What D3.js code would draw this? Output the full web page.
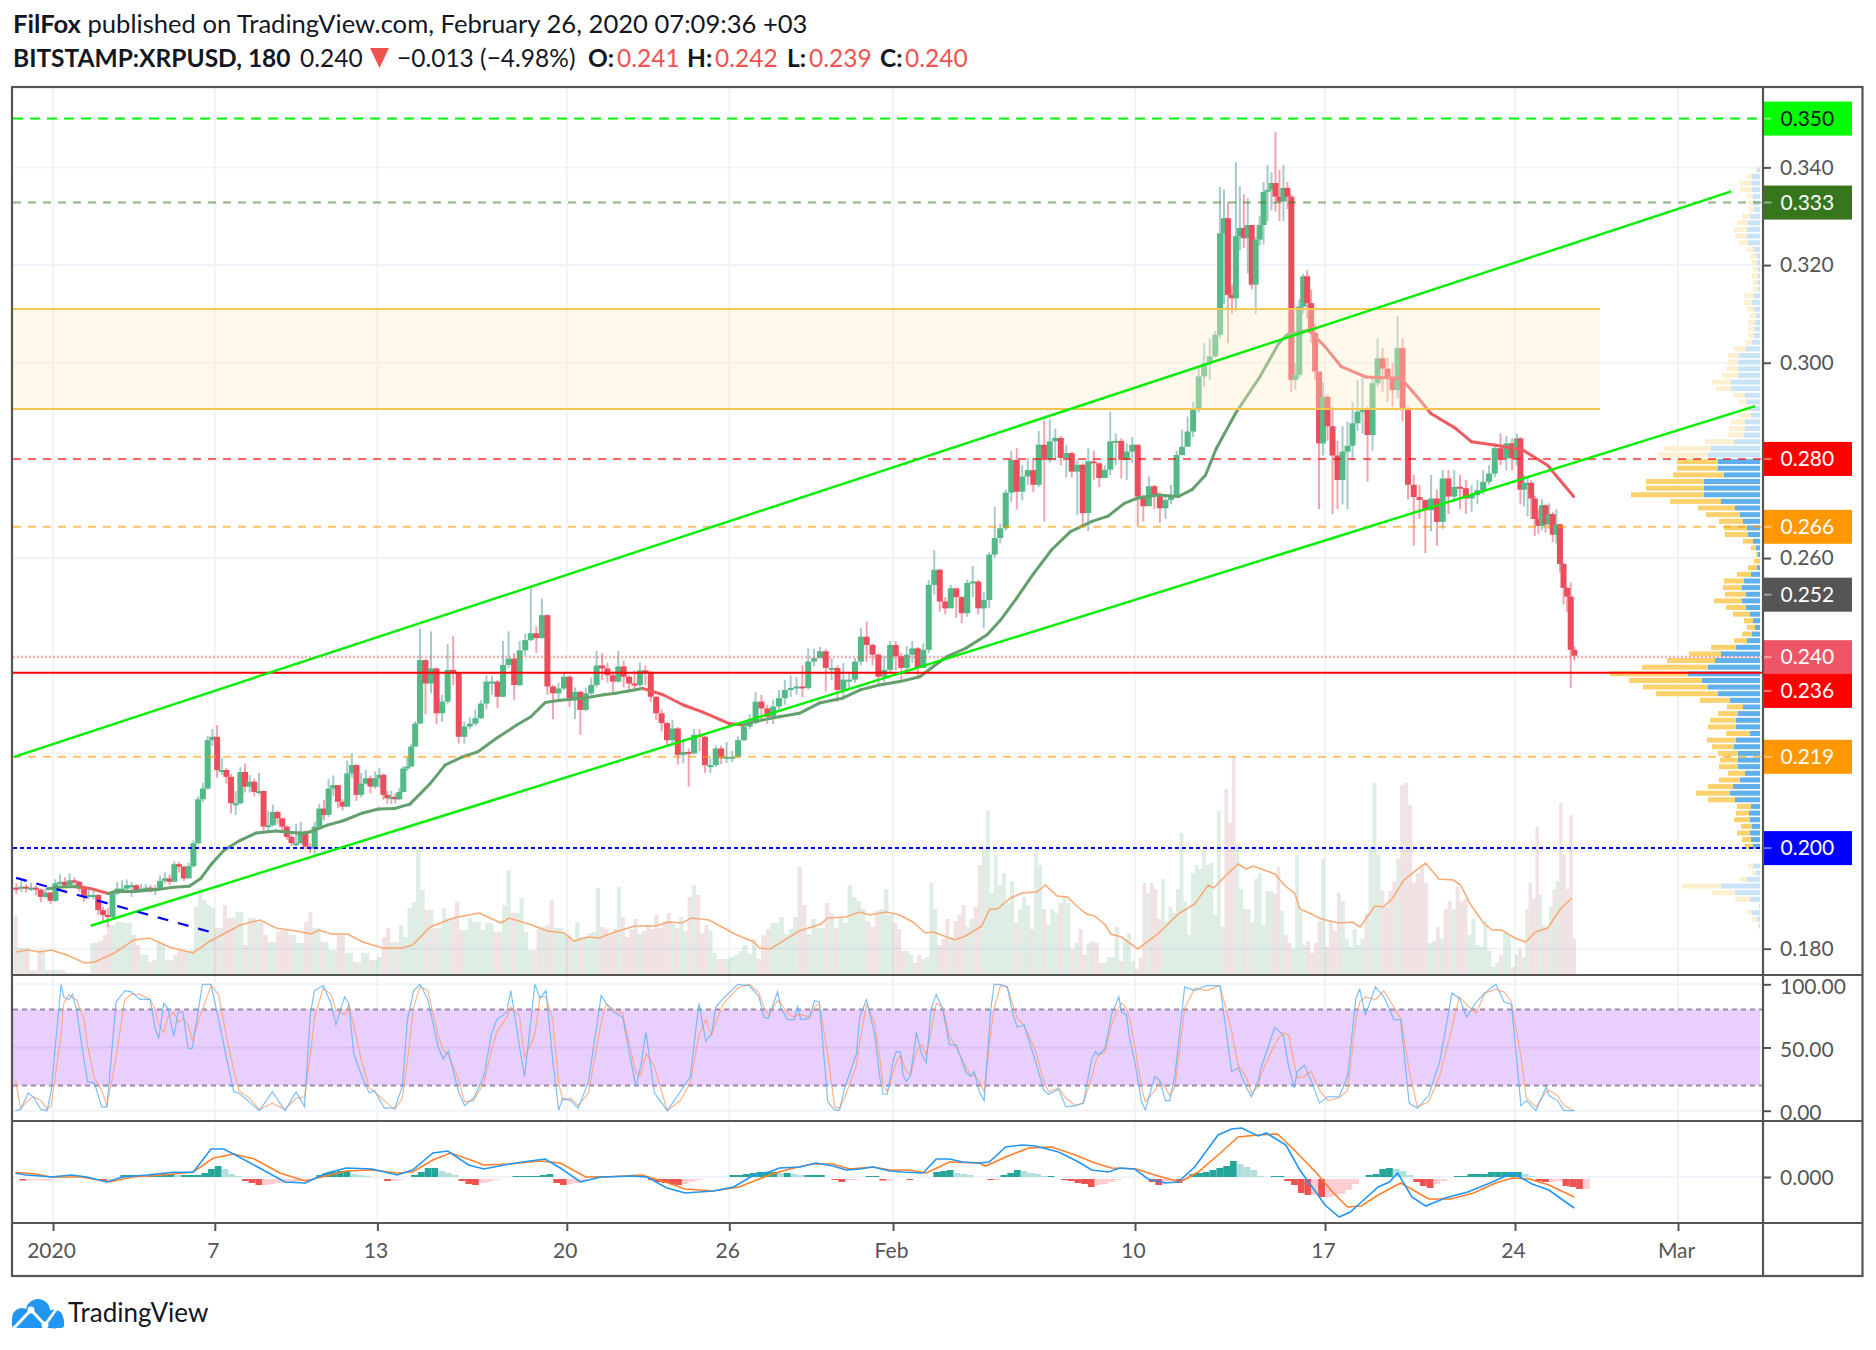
<!DOCTYPE html>
<html><head><meta charset="utf-8">
<script src="https://cdn.jsdelivr.net/npm/d3@7"></script>
<style>html,body{margin:0;background:#fff}svg{display:block}text{font-family:Lato,"Open Sans",sans-serif}</style>
</head><body><script>
// ---------- time ticks (days since 1 Jan 2020) ----------
const tickDays=[0,6,12,19,25,31,40,47,54,60];
const tickLabels=["2020","7","13","20","26","Feb","10","17","24","Mar"];
const segmentDays=[-1.45,0,6,12,19,25,31,40,47,54,56.25];
// ---------- candles: [close, high, low] in thousandths of a dollar, one list per stretch of days ----------
const barDays=[-1.45,0,6,12,13.47,19,25,31,40,43.06,47,49.95,54,56.25];
const barsDec=[[192.3,193.4,191.2],[192.7,193.8,191.6],[192.3,193.2,191.5],[192.5,193.5,191.8],[192.1,193,190.9],[190.6,192.3,189.5],[191.5,192.4,190.3],[189.8,191.6,189.2]];
const barsJan1=[[193.4,194.2,189.6],[193.7,195.2,193],[193,194.6,192.4],[194,195.4,193],[193.7,194.6,192.7],[192.3,193.9,191.7],[190.6,192.4,189.6],[191,192.6,190.2],[191,191.8,190.1],[187.9,191.2,187],[186.9,188.6,185.5],[186.5,188.3,184.4],[191.3,192,186],[192.3,193.7,191],[192.3,194,191.4],[193,194.2,191.8],[193,193.7,190.6],[192,193.2,191.4],[192.3,193.2,191.6],[192.5,193.2,191.8],[192.3,193,191.5],[192.3,193,191],[193.9,195,192],[194.4,195.6,193.4],[193.7,195.2,193],[197.3,197.9,193.6],[196.8,197.8,195.6],[194.4,197,193.9],[196.9,197.6,194.4],[201.6,202.2,196.6],[210.6,211.2,201.4],[212.8,214,210],[222.7,223.6,212.6],[223.4,225,221.5]];
const barsJan7=[[216.6,225.8,215],[216.6,219,215.6],[215.2,217,213.8],[209.8,215.8,207.7],[209.8,212.3,207.4],[216.2,217.2,209.5],[213.2,217.9,212],[214.2,215.6,212],[212.1,214.8,211.2],[212.3,216,211.5],[205,212.4,204.1],[205.3,208.3,204],[208,209.5,205],[206.7,208.3,205.6],[205,206.8,204.3],[202.9,205.3,202.3],[201.6,203.5,201],[201.6,205.6,201],[204,206,201.4],[200.9,204.2,200.3],[200.5,201.6,199.6],[205,206,199.4],[208.7,209.7,204.6],[207.4,210.5,206.3],[212.8,214.8,207],[213.5,215.5,211.3],[210.1,213.5,208.8],[209.1,210.6,208.3],[215.9,218.5,209],[217.6,220,215],[211.5,217.8,210.3],[213.8,216,211],[214.9,216.6,213.6],[213.2,215.5,211.8],[214.9,216.3,212.8]];
const barsJan13=[[215.6,217,213],[211.5,215.9,210.5],[210.8,212.3,209.7],[211.1,212.4,209.6],[210.6,211.8,209.8],[212.1,212.9,210.4],[216.9,217.4,212],[217.3,219.3,216.4],[221.4,222,217.4],[226.1,226.6,221.3]];
const barsJan14=[[239.1,245.6,226],[234.3,239.3,228],[237.4,245,232.3],[228.2,237.6,226],[230.6,232,226.5],[237.1,242.4,230],[236.4,244,234],[223.4,236.6,222],[225.5,226.5,222],[226.1,227.4,225],[227.2,229,225.6],[230.2,230.9,227],[234.7,236,229],[234.7,235.9,232],[231.6,235,229.3],[238.1,243,231.5],[239.4,245,237.5],[234,240.5,231],[241.1,243,233.7],[243.2,244.5,240],[244.6,253.8,243],[243.6,246,240.6],[248.3,251.7,243.5],[233.7,248.5,232],[232.3,234,227],[233.3,234.5,231],[235.7,236.6,233]];
const barsJan20=[[231.3,236,229.5],[232.6,233.5,227],[228.9,232.8,223.8],[232.3,233.5,228.6],[234,235.5,232],[238,241,233.5],[237.4,240.5,235],[236,238.6,234.5],[234.7,236.8,232.6],[237.8,241,234.5],[235.7,239,233.5],[234.3,236,232.5],[234,237,232.8],[237,238.6,233.6],[236.7,238,234],[231.6,236.8,230.5],[228.2,231.8,226.8],[226.2,229,224.5],[222.7,226.4,221.5],[225.1,226.8,222],[219.7,225.4,217.7],[220.3,223,218],[220,221,213.2],[223.8,225,219.8],[223.4,225,220.5],[217.6,223.6,216],[217.6,219,216],[221,221.6,217.2],[219,221.6,217.8],[219.3,222.3,218]];
const barsJan26=[[219.3,220.5,218.2],[222.7,223.5,219],[225.5,226.5,222.5],[226.2,228,225],[230.6,232.5,226],[229.2,232,226.5],[227.5,230,226],[229.6,231,226],[231.3,233,228.5],[233,235,230],[233.4,236,231.6],[233.7,235.6,232],[233.4,238,231.5],[238.8,241.5,233],[239.5,241.4,237.8],[240.9,241.8,239.5],[237.5,241.4,232.7],[237.5,239.5,235],[233,238,230.6],[235.1,238.5,231.3],[235.1,236.4,233],[238.8,239.5,234.5],[243.9,245.7,238],[242.2,247,238.7],[240.2,242.5,238],[235.7,240.5,234],[237.1,240,234.5],[242.2,243,236.5]];
const barsFeb1=[[239.9,243,237],[237.5,240.6,235],[240.2,242,236.6],[241.5,243,238.5],[237.5,241.8,235.5],[241.2,242.5,239],[254.5,255.5,240.5],[257.6,261.6,252.5],[251.1,257.8,249],[249.7,252,248.5],[253.8,254.5,250],[252,253.5,247.7],[248.7,252.2,246.7],[254.9,255.6,248],[255.2,258.4,252],[249.7,255.5,248.5],[251.4,253,245.6],[260.7,261.2,249.8],[264.1,270.5,260],[266.1,267,263],[273.4,274,265.6],[280.1,282,271.5],[273.6,282.5,270],[276.7,279,271.8],[278,280.5,275],[275,280.5,273.5],[283.2,286,274.5],[280.1,288.2,267.5],[283.9,288.4,279.5],[284.6,286.5,280],[280.5,285,279],[281.5,283.2,276.5],[277.7,281.8,276.5],[279.1,280,268.8],[269.2,279.4,266.5],[279.8,282.5,265.5],[279.4,282,276],[276.4,279.5,274.5],[278.1,279,276.5],[283.9,290,277],[284,285.5,279],[280.1,284.5,276.3],[281.8,283.5,276],[283.2,284.8,279.5]];
const barsFeb10=[[272.6,283.3,266.5],[270.6,273,267.5],[274.7,276.7,271],[273,275,270],[270.2,273.5,267.2],[271.9,273,268],[272.9,275,271],[281.1,282,272.5],[282.8,286.3,281],[285.9,289,285],[290.4,292,284.8],[297.2,299,289.8],[299.9,304,295],[301.3,305,296.4],[305.7,306.5,301]];
const barsFeb13=[[326.5,336,305],[329.6,335.5,312],[313.9,332.8,304],[313.2,316,310],[325.9,341.1,310.5],[327.6,336.2,322.9],[325.5,334.5,323.5],[328.2,333.7,318.3],[316,325.5,315],[325.2,325.8,310],[328.2,330,324],[335,337,324.2],[335.4,340.5,329],[336.8,339,331.2],[334,347.3,331],[333,339.5,329],[335.8,340.5,329],[334,337,331.5],[296.5,334.5,294],[297.5,300,294.4],[311.5,313,297],[317.7,318.2,310],[312.2,319,309],[306.1,315,304],[298.2,308,296.4],[283.5,298,270],[293,296,281]];
const barsFeb17=[[287,293.5,284],[281,291,269],[276,284,270],[281.8,287,271],[283,288,270],[287.6,292,280],[290,296.5,286],[290.3,297,285.5],[285.2,291,275.6],[295.8,297,282],[300.9,305,295],[298.8,303,294],[296.8,301,292],[294.4,300,291],[303,309.5,292.7],[290.3,305,288]];
const barsFeb20=[[275,291,272],[272.5,277,262.5],[271.9,275,268],[269.8,272,261],[272.2,277,265.5],[267.4,274,262.5],[276.3,278,266],[272.6,278,269],[274.6,278,271.5],[274.3,277,270],[272.2,276,269],[272.9,275,269.5],[273.9,276,271],[275.6,278,273],[277.3,279,275],[282.5,283.5,276.5],[280.4,285.5,279],[283.5,285,278],[280.4,284.5,278]];
const barsFeb24=[[284.5,285.5,279],[274,284.8,271],[275.4,277,270.6],[275.4,276.8,268.5],[272.2,276,268],[268,272.8,264.5],[266.6,270,265],[270.8,272,265.7],[266.9,271,265.2],[269,271.2,266],[264.8,269.5,263.3],[266.9,270,263],[258.8,267.1,257],[253.9,259,250.5],[252.1,254,249],[241.2,255,233.4],[240,242,239]];
// ---------- volume, one list per tick interval ----------
const volDec=[59,27,27,27,5,5,25,25,5,5];
const volJan1=[5,5,5,2,2,2,2,2,2,32,32,34,40,50,50,53,53,52,52,40,30,20,20,13,15,32,32,15,15,20,25,25,23,25,68,87,75,70,67];
const volJan7=[47,47,70,57,57,63,63,30,57,57,53,53,40,33,33,43,45,45,40,40,32,32,53,63,47,47,33,33,25,25,40,40,22,22,13,13,22,22,15,15];
const volJan13=[18,38,47,33,33,50,38,67,73,125,85,65,65,47,47,67,57,57,73,45,45,57,53,53,45,52,52,43,43,70,105,62,62,77,43,25,25,48,48,50,75,47,47,40];
const volJan20=[40,35,53,38,38,42,43,87,48,46,41,46,88,58,38,46,56,41,44,50,46,60,47,54,62,51,47,58,44,78,90,80,42,50,44,22,16,16,16];
const volJan26=[18,20,24,30,21,36,16,40,46,52,52,58,41,46,58,108,70,41,56,47,47,72,62,47,57,52,90,78,74,66,54,48,64,66,86,60];
const volFeb1=[52,46,24,24,20,12,20,16,18,92,66,30,36,56,38,54,60,70,48,56,68,110,124,164,82,120,90,102,72,94,52,66,78,70,46,122,110,66,50,66,62,72,78,72,26,32,46,20,32,34,32,12,12,18,18,48,14,34,42,14];
const volFeb10=[6,18,92,82,92,86,56,96,54,68,62,86,142,74,40,102,110,106,124,110,112,60,164,48,186,152,219,130,86,66,66,52,96,102,50,84,84,82,108,64,40,32,26,120,64,30,34,22,32,54,116];
const volFeb17=[28,54,44,82,74,36,28,46,30,36,62,128,192,120,84,68,84,94,116,190,192,170,92,102,110,92,32,34,48,36,66,74,66,88,74,76,40,56,30,28,54,24,8,12,20,42,40,8];
const volFeb24=[20,26,18,66,92,76,148,80,50,48,68,86,94,172,120,86,160,36];
// volume moving average: [day, value]
const volAverage=[[-1.37,23],[-.93,25],[-.5,23],[-.06,25],[.52,20],[1.18,12],[1.55,13],[2.27,22],[3,35],[3.58,37],[4.3,28],[5.2,22],[5.77,33],[6.94,50],[7.67,55],[8.25,47],[9,44],[9.56,41],[9.85,45],[10.3,41],[10.9,41],[11.46,33],[12.2,27],[12.9,27],[13.3,30],[13.95,48],[14.8,57],[15.76,62],[16.57,52],[16.86,57],[17.6,51],[18.3,44],[18.9,42],[19.26,34],[19.78,38],[20.2,37],[20.67,42],[21.5,49],[22.27,49],[22.76,53],[23.25,52],[23.6,57],[24.24,55],[24.67,49],[25.2,41],[25.9,33],[26.1,27],[26.5,26],[27.56,44],[28.36,51],[28.6,57],[29.28,58],[29.77,63],[30.14,60],[30.76,63],[31.25,60],[31.74,53],[32.2,42],[32.5,43],[33.3,35],[33.7,39],[34.3,49],[34.6,66],[34.88,66],[35.37,77],[35.8,82],[36.35,83],[36.66,90],[37.1,79],[37.5,78],[37.83,69],[38.2,61],[38.5,59],[38.9,50],[39.1,41],[39.5,38],[40.1,26],[40.84,41],[41.6,61],[42.2,71],[42.7,90],[42.9,87],[43.4,101],[43.8,111],[44.1,106],[44.35,109],[45.15,101],[45.5,90],[45.9,81],[46.07,66],[46.5,61],[46.87,56],[47.5,52],[48,53],[48.3,48],[48.84,69],[49.15,68],[49.5,77],[49.9,95],[50.7,112],[51.2,96],[51.73,95],[52,90],[52.35,71],[52.84,52],[53.15,45],[53.5,45],[54,37],[54.4,33],[54.75,43],[55.2,47],[55.7,67],[56.1,77]];
// price moving average: [day, price]
const priceAverage=[[-.2,192.3],[.4,192.7],[1.03,192.7],[1.4,192.3],[2.05,191.3],[2.35,191.7],[3,191.7],[3.87,192.1],[4.46,192.6],[5.05,192.8],[5.48,194.4],[5.9,197.5],[6.35,200.2],[6.94,202.2],[7.53,203.7],[8.25,204.1],[9.27,203.6],[9.56,204],[10.15,205.3],[10.74,206.2],[11.46,207.8],[12.04,208.6],[12.63,208.7],[13.2,209.6],[13.95,213.8],[14.5,217.6],[15.1,219.2],[15.7,220.3],[16.4,223.1],[17.15,225.8],[17.67,227.5],[18.2,230.4],[18.75,230.9],[19.6,231.3],[20.36,232],[20.8,232.3],[21.8,233.3],[22.55,232],[23.3,229.9],[24,228.5],[25,226.1],[25.5,225.8],[25.9,226.5],[26.83,227.5],[27.57,228.2],[28.3,230.3],[29.15,231.3],[29.8,233],[30.5,234],[31.25,234.7],[32,235.7],[32.5,237.8],[33,239.8],[33.7,241.5],[34.5,244.3],[35,247.3],[35.6,251.8],[36.2,256.6],[36.9,261.7],[37.6,265.4],[38.4,267.5],[39,268.6],[39.6,271.2],[40.1,272.3],[40.85,272.9],[41.6,272.6],[42.1,274],[42.6,277],[43,282.5],[43.7,289.6],[44.6,297.1],[45.3,304],[45.6,305.7],[46.4,306.7],[47,303.3],[47.6,299.2],[48.5,297.1],[49.8,296.8],[50.4,293],[50.9,289.6],[51.8,286.6],[52.4,283.8],[53.3,283.1],[54.3,282.1],[55.2,279],[55.6,276.3],[56.16,272.6]];
const priceAverageFallingSpans=[[1.2,2.2],[8.9,9.4],[21.8,25.6],[46.4,56.2]];
// drawn channel and trend lines: [day, price, day, price]
const channelLines=[[-1.44,219.3,61.96,335.1],[1.4,184.7,62.84,291.1]];
const blueTrend=[-1.37,194.5,5.98,183.2];
const zoneBand=[290.5,311,57.13];
// horizontal levels
const lineLevels=[350,332.8,280.3,266.4,239.7,236.5,219.3,200.6];
const lineColors=["#00ff00","#38761d","#ff0000","#ff9800","#ef5350","#ff0000","#ff9800","#0000ff"];
const lineOpacity=[1,.55,.6,.6,.5,1,.6,1];
const lineDash=["10 7","8 7","8 7","8 7","2 2","","8 7","4 3"];
const tagLabels=["0.350","0.333","0.280","0.266","0.252","0.240","0.236","0.219","0.200"];
const tagValues=[350,332.8,280.3,266.4,252.5,239.7,232.8,219.3,200.6];
const tagColors=["#00ff00","#38761d","#ff0000","#ff9800","#555555","#ee5566","#ff0000","#ff9800","#0000ff"];
const tagText=["#131722","#fff","#fff","#fff","#fff","#fff","#fff","#fff","#fff"];
const priceTicks=[180,200,220,240,260,280,300,320,340];
const priceLabelled=[180,260,300,320,340];
// volume profile rows from the top, [buy, sell]
const profileTop=339.5, profileStep=1.358;
const profileRows=[[3,1],[8,5],[9,12],[8,12],[7,6],[7,5],[6,5],[10,8],[12,11],[13,13],[13,12],[12,9],[6,7],[3,7],[3,5],[2,5],[2,6],[2,5],[2,5],[6,9],[8,8],[6,8],[4,6],[5,7],[5,7],[6,5],[8,7],[14,12],[21,11],[22,10],[21,13],[22,16],[29,19],[29,15],[15,12],[13,8],[10,6],[9,12],[15,14],[15,16],[16,16],[26,29],[49,47],[52,51],[42,41],[42,41],[36,51],[56,58],[56,58],[56,73],[39,51],[25,37],[20,34],[17,24],[13,23],[12,23],[7,10],[4,5],[2,2],[0,6],[3,9],[9,14],[16,20],[18,19],[14,21],[18,28],[14,20],[10,17],[7,9],[5,8],[8,10],[13,13],[24,25],[39,32],[45,48],[52,66],[72,78],[58,73],[52,65],[42,62],[30,30],[17,16],[22,20],[24,26],[24,28],[10,24],[24,29],[26,22],[22,20],[22,18],[22,19],[15,17],[20,21],[27,25],[30,34],[25,27],[9,14],[11,13],[10,16],[8,11],[10,13],[9,9],[7,8],[0,0],[0,0],[7,5],[4,4],[13,7],[39,39],[25,23],[10,15],[1,0],[8,5],[3,5],[1,1]];
const profilePaleAbove=44, profilePaleBelow=105;
// stochastic: [day, K, D]
const stochastic=[[-1.39,0,24],[-1.2,1,2],[-.92,14,8],[-.73,11,11],[-.45,1,8],[-.22,0,1],[-.07,15,4],[.3,100,60],[.4,90,85],[.59,88,92],[.72,92,89],[.87,80,88],[1.15,40,72],[1.28,23,52],[1.53,22,26],[1.81,3,16],[2,3,4],[2.34,86,42],[2.66,95,88],[2.9,94,92],[3.22,88,92],[3.6,88,88],[3.79,65,80],[3.92,57,68],[4.11,85,62],[4.26,81,74],[4.48,59,78],[4.64,78,70],[4.82,78,73],[5.01,49,68],[5.16,49,56],[5.54,100,80],[5.86,100,99],[6.14,72,92],[6.42,43,60],[6.7,15,32],[6.89,14,16],[7.27,7,10],[7.65,0,1],[8.12,15,6],[8.59,0,1],[9,15,10],[9.31,3,11],[9.53,77,45],[9.68,95,74],[10,99,97],[10.29,85,92],[10.47,68,80],[10.79,90,76],[10.94,85,84],[11.13,45,67],[11.41,28,40],[11.7,14,18],[11.89,16,15],[12.26,2,8],[12.64,2,1],[12.92,19,10],[13.11,72,40],[13.34,95,82],[13.58,100,98],[13.86,88,95],[14.24,51,60],[14.43,41,48],[14.62,47,44],[15,15,25],[15.22,4,7],[15.56,10,8],[15.93,27,22],[16.22,61,48],[16.41,72,62],[16.78,78,74],[16.93,95,82],[17.25,51,75],[17.44,27,42],[17.82,100,60],[18.01,89,90],[18.23,95,90],[18.48,40,72],[18.7,.5,22],[18.85,10,8],[19.14,8,10],[19.42,2,4],[19.8,23,14],[20.27,91,70],[20.45,85,84],[20.74,78,80],[21.06,74,77],[21.55,19,30],[21.73,35,28],[21.92,62,45],[22.24,14,35],[22.71,0,0],[23.19,15,8],[23.56,27,22],[23.88,85,60],[24.13,55,72],[24.35,61,60],[24.5,82,70],[24.79,89,85],[25.31,100,97],[25.73,99,100],[26.09,90,93],[26.27,74,82],[26.43,73,76],[26.77,94,87],[26.89,81,85],[27.14,72,77],[27.38,72,74],[27.5,82,76],[27.63,72,76],[27.93,73,74],[28.12,87,82],[28.3,86,85],[28.61,7,44],[28.86,.5,3],[29.04,.5,2],[29.23,18,10],[29.66,45,36],[29.78,74,55],[30.03,88,84],[30.33,60,69],[30.52,26,41],[30.64,13,20],[30.79,13,15],[31.01,40,31],[31.13,47,39],[31.28,46,44],[31.38,28,37],[31.5,23,31],[31.65,28,28],[31.87,62,47],[32.06,45,52],[32.24,38,44],[32.42,81,63],[32.61,92,85],[32.85,80,82],[33.1,52,59],[33.35,52,50],[33.72,30,34],[33.9,27,28],[34.02,31,28],[34.21,15,23],[34.39,8,15],[34.64,81,63],[34.76,100,81],[35,100,99],[35.25,98,98],[35.44,78,85],[35.62,66,73],[35.87,68,68],[36.3,39,47],[36.61,16,23],[36.79,13,15],[37.16,17,18],[37.43,3,10],[37.78,4,4],[38.08,6,6],[38.39,41,26],[38.54,47,39],[38.64,44,44],[38.88,49,46],[39.13,76,68],[39.4,90,82],[39.5,78,85],[39.68,76,81],[39.8,57,73],[39.99,39,51],[40.24,7,18],[40.38,.5,7],[40.73,27,16],[40.91,24,23],[41.12,8,18],[41.28,8,12],[41.47,28,19],[41.83,98,81],[42.2,95,97],[42.63,99,95],[43.13,99,99],[43.56,31,63],[43.8,34,36],[44.11,18,26],[44.29,11,14],[44.54,24,19],[44.63,33,28],[45.15,66,53],[45.46,60,62],[45.66,35,60],[45.87,18,37],[45.97,31,26],[46.24,36,27],[46.49,24,31],[46.8,6,16],[47.1,11,8],[47.52,11,10],[47.83,27,16],[48.14,89,72],[48.28,96,86],[48.49,76,90],[48.86,98,88],[49.17,90,95],[49.54,72,82],[49.79,72,73],[50.1,6,32],[50.4,2,3],[50.82,12,7],[51.23,39,28],[51.68,93,66],[51.95,89,90],[52.22,74,84],[52.57,86,77],[52.88,93,93],[53.29,100,96],[53.6,86,94],[53.87,84,86],[54.22,4,43],[54.42,8,10],[54.77,0,3],[55.15,19,15],[55.25,12,16],[55.56,8,12],[55.8,0,4],[56.18,0,0]];
const stochasticTicks=[0,50,100];
const stochasticBand=[20,80];
// MACD (units of 0.0001): [day, value]
const macdLine=[[-1.39,3.7],[-1,2],[-.45,1],[-.07,0],[.68,2],[1.25,0],[2,-5],[2.56,0],[3.5,2],[4.45,4.7],[5.2,4.7],[5.86,28],[6.33,28],[6.9,20],[7.65,9],[8.59,-5],[9.34,-6],[10.1,3.7],[10.85,9],[11.8,8],[12.73,2],[13.3,7],[14.05,24],[14.6,26],[15.37,12],[15.93,8],[16.88,13],[17.63,16],[18.2,18],[18.76,9],[19.5,-5],[20.27,0],[21.4,1],[21.96,0],[22.7,-11],[23.37,-16],[24.41,-14],[25.16,-10],[25.9,2],[26.46,5],[26.83,9],[27.57,10],[28.18,14],[28.8,11],[29.29,7],[29.78,8],[30.27,10],[30.89,6],[31.38,5],[32.12,4],[32.61,18],[33.1,18],[33.59,15],[34.21,14],[34.58,15],[35.19,30],[35.81,32],[36.3,31],[37.16,25],[37.9,15],[38.39,7],[39,5],[39.44,9],[39.99,8],[40.48,-2],[41.1,-6],[41.59,-5],[42.2,10],[43.06,42],[43.56,48],[43.93,49],[44.54,41],[44.84,44],[45.56,32],[46.07,7],[46.69,-16],[47,-28],[47.52,-40],[47.93,-35],[48.34,-25],[48.96,-10],[49.37,-5],[49.68,4],[50.2,-20],[50.71,-29],[51.43,-21],[52.26,-15],[53.08,-6],[53.91,4],[54.63,-7],[55.25,-13],[55.76,-23],[56.18,-31]];
const macdSignal=[[-1.39,4.7],[-.64,3],[-.07,0],[1.06,0],[2.09,-5],[2.94,0],[4.07,2],[5.2,5],[5.95,19],[6.7,23],[7.46,18],[8.4,4],[9.34,-4],[10.1,1],[10.85,6],[11.8,7],[12.73,4],[13.3,5],[14.05,17],[14.71,24],[15.56,16],[15.93,12],[16.88,13],[18,16],[18.76,14],[19.7,0],[20.45,0],[21.77,2],[22.53,-4],[23.37,-12],[24.41,-14],[25.35,-10],[26.29,0],[26.58,3],[27.2,8],[28.06,13],[28.8,13],[29.41,8],[30.27,10],[30.89,7],[31.63,7],[32.24,4],[33.1,15],[34.21,14],[34.45,11],[35.19,20],[36.05,29],[36.91,30],[37.78,22],[38.51,14],[39.13,9],[40.05,8],[40.73,2],[41.65,-5],[42.33,5],[43.19,25],[43.8,40],[44.54,42],[45.25,43],[45.87,27],[46.69,4],[47.31,-16],[47.83,-30],[48.34,-29],[48.96,-18],[49.79,-6],[50.82,-22],[51.64,-22],[52.47,-16],[53.29,-6],[53.91,-1],[54.53,-2],[55.25,-8],[56.18,-20]];
// MACD histogram, one value per quarter day starting at day -1.25
const histogramStart=-1.25, histogramStep=.25;
const histogram=[-1.5,-1.5,-1.5,-1.5,-1.5,0,0,0,0,0,0,0,-2,-2,0,2,2,2,1,1,1,3,3,2,2,2,2,4,8,11,8,3,1,-2,-4,-6,-6,-5,-4,-4,-3,-2,-1,0,2,4,5,6,6,3,2,1,0,0,-2,-2,-1,0,2,5,9,9,6,4,2,-2,-5,-6,-4,-3,-1,0,0,1,1,1,1,2,3,-4,-6,-5,-4,-2,0,1,1,1,1,.5,.5,.5,.5,-1,-3,-4,-5,-6,-5,-3,-1,0,0,0,0,2,2,3,4,5,5,5,4,4,3,2,2,2,2,0,-1,-3,-1,-1,0,1,1,-1.5,-1.5,0,0,-1,0,0,0,5,6,7,4,3,2,0,0,-1,-1,2,4,7,6,4,3,1,1,0,-1,-2,-4,-5,-8,-6,-5,-3,-1,0,0,0,0,-3,-6,-3,-2,-4,-1,3,4,5,7,9,11,16,13,10,7,1,0,1,1,-2,-6,-14,-16,-16,-18,-18,-17,-15,-11,-5,0,2,3,8,9,8,6,2,-3,-7,-9,-5,-2,0,1,1,3,3,3,5,5,5,5,5,3,1,-2,-3,-3,-2,-7,-8,-10,-10];
const macdTicks=[0];

// ---------- scales ----------
const W=1876,H=1350,paneLeft=13,axisX=1763,outerRight=1862.5,paneTop=87,mainBottom=975,stochBottom=1121,macdBottom=1223,timeBottom=1276;
const timeX=d3.scaleLinear().domain(tickDays).range([53,214.8,377.4,566.8,729.3,893,1135,1325,1515,1678]);
const priceY=d3.scaleLinear().domain([180,340]).range([948.7,167.4]);
const volY=d3.scaleLinear().domain([0,220]).range([mainBottom,mainBottom-220]);
const stochY=d3.scaleLinear().domain([0,100]).range([1110.7,984.3]);
const macdY=d3.scaleLinear().domain([-46,56]).range([macdBottom,stochBottom]);
const profileX=d3.scaleLinear().domain([0,100]).range([1760,1660]);
const barGroups=[barsDec,barsJan1,barsJan7,barsJan13,barsJan14,barsJan20,barsJan26,barsFeb1,barsFeb10,barsFeb13,barsFeb17,barsFeb20,barsFeb24];
const volGroups=[volDec,volJan1,volJan7,volJan13,volJan20,volJan26,volFeb1,volFeb10,volFeb17,volFeb24];
const bars=[];let prevClose=192.5;
barGroups.forEach((g,s)=>g.forEach((r,i)=>{const day=barDays[s]+(i+.5)/g.length*(barDays[s+1]-barDays[s]);bars.push({day,o:prevClose,c:r[0],h:r[1],l:r[2]});prevClose=r[0];}));
const vols=[];
volGroups.forEach((g,s)=>g.forEach((v,i)=>{const span=(segmentDays[s+1]-segmentDays[s])/g.length;vols.push({day:segmentDays[s]+i*span,span,v});}));
const barAt=d3.bisector(d=>d.day).center;

const svg=d3.select("body").append("svg").attr("width",W).attr("height",H);
const defs=svg.append("defs");
defs.append("clipPath").attr("id","mainClip").append("rect").attr("x",paneLeft).attr("y",paneTop).attr("width",axisX-paneLeft).attr("height",mainBottom-paneTop);
const mainPane=svg.append("g").attr("clip-path","url(#mainClip)");
const gridColor="#f0f3f7";

// grids
function vGrid(y0,y1){svg.append("g").selectAll("line").data(tickDays).join("line").attr("x1",d=>timeX(d)).attr("x2",d=>timeX(d)).attr("y1",y0).attr("y2",y1).attr("stroke",gridColor).attr("stroke-width",2);}
mainPane.append("g").selectAll("line").data(priceTicks).join("line").attr("x1",paneLeft).attr("x2",axisX).attr("y1",d=>priceY(d)).attr("y2",d=>priceY(d)).attr("stroke",gridColor).attr("stroke-width",2);
mainPane.append("g").selectAll("line").data(tickDays).join("line").attr("x1",d=>timeX(d)).attr("x2",d=>timeX(d)).attr("y1",paneTop).attr("y2",mainBottom).attr("stroke",gridColor).attr("stroke-width",2);

// volume
mainPane.append("g").selectAll("rect").data(vols).join("rect")
 .attr("x",d=>timeX(d.day)).attr("width",d=>timeX(d.day+d.span)-timeX(d.day))
 .attr("y",d=>volY(d.v)).attr("height",d=>mainBottom-volY(d.v))
 .attr("fill",d=>{const b=bars[barAt(bars,d.day+d.span/2)];return b.c>=b.o?"rgba(83,165,115,.19)":"rgba(175,100,105,.18)";});
mainPane.append("path").datum(volAverage).attr("fill","none").attr("stroke","#f7ab76").attr("stroke-width",1.6)
 .attr("d",d3.line().x(d=>timeX(d[0])).y(d=>volY(d[1])));

// volume profile
const prof=mainPane.append("g");
const profY=i=>priceY(profileTop-i*profileStep);
const pale=i=>i<profilePaleAbove||i>=profilePaleBelow;
prof.selectAll(".b").data(profileRows).join("rect").attr("class","b").attr("x",d=>profileX(d[0])).attr("width",d=>profileX(0)-profileX(d[0]))
 .attr("y",(d,i)=>profY(i)-2.5).attr("height",5).attr("fill",(d,i)=>pale(i)?"#c9e3f7":"#5fb0ec");
prof.selectAll(".s").data(profileRows).join("rect").attr("class","s").attr("x",d=>profileX(d[0]+d[1])).attr("width",d=>profileX(d[0])-profileX(d[0]+d[1]))
 .attr("y",(d,i)=>profY(i)-2.5).attr("height",5).attr("fill",(d,i)=>pale(i)?"#fdf0d0":"#fdd26d");

// candles
const cg=mainPane.append("g");
cg.selectAll(".w").data(bars).join("line").attr("class","w").attr("x1",d=>timeX(d.day)).attr("x2",d=>timeX(d.day)).attr("y1",d=>priceY(d.h)).attr("y2",d=>priceY(d.l))
 .attr("stroke",d=>d.c>=d.o?"#a6c9cc":"#f4a3ad").attr("stroke-width",2);
cg.selectAll(".r").data(bars).join("rect").attr("class","r").attr("x",d=>timeX(d.day)-3).attr("width",6)
 .attr("y",d=>priceY(Math.max(d.o,d.c))).attr("height",d=>Math.max(2,Math.abs(priceY(d.o)-priceY(d.c))))
 .attr("fill",d=>d.c>=d.o?"#53b987":"#eb4d5c");

// price moving average
const falling=d=>priceAverageFallingSpans.some(s=>d>=s[0]&&d<s[1]);
mainPane.append("g").selectAll("line").data(d3.pairs(priceAverage)).join("line")
 .attr("x1",d=>timeX(d[0][0])).attr("y1",d=>priceY(d[0][1])).attr("x2",d=>timeX(d[1][0])).attr("y2",d=>priceY(d[1][1]))
 .attr("stroke",d=>falling((d[0][0]+d[1][0])/2)?"#f05a5f":"#64a06e").attr("stroke-width",3).attr("stroke-linecap","round");

// zone
mainPane.append("rect").attr("x",paneLeft).attr("width",timeX(zoneBand[2])-paneLeft).attr("y",priceY(zoneBand[1])).attr("height",priceY(zoneBand[0])-priceY(zoneBand[1])).attr("fill","rgba(255,239,200,.37)");
mainPane.append("g").selectAll("line").data(zoneBand.slice(0,2)).join("line").attr("x1",paneLeft).attr("x2",timeX(zoneBand[2])).attr("y1",d=>priceY(d)).attr("y2",d=>priceY(d)).attr("stroke","#f7c64f").attr("stroke-width",2);

// levels
mainPane.append("g").selectAll("line").data(lineLevels).join("line").attr("x1",paneLeft).attr("x2",axisX).attr("y1",d=>priceY(d)).attr("y2",d=>priceY(d))
 .attr("stroke",(d,i)=>lineColors[i]).attr("stroke-opacity",(d,i)=>lineOpacity[i]).attr("stroke-dasharray",(d,i)=>lineDash[i]).attr("stroke-width",2);

// trend lines
mainPane.append("g").selectAll("line").data(channelLines).join("line").attr("x1",d=>timeX(d[0])).attr("y1",d=>priceY(d[1])).attr("x2",d=>timeX(d[2])).attr("y2",d=>priceY(d[3])).attr("stroke","#00f000").attr("stroke-width",2.4);
mainPane.append("line").attr("x1",timeX(blueTrend[0])).attr("y1",priceY(blueTrend[1])).attr("x2",timeX(blueTrend[2])).attr("y2",priceY(blueTrend[3])).attr("stroke","#0000ff").attr("stroke-width",2.2).attr("stroke-dasharray","11 10");

// stochastic pane
vGrid(mainBottom,stochBottom);
svg.append("g").selectAll("line").data(stochasticTicks).join("line").attr("x1",paneLeft).attr("x2",axisX).attr("y1",d=>stochY(d)).attr("y2",d=>stochY(d)).attr("stroke",gridColor).attr("stroke-width",2);
svg.append("rect").attr("x",paneLeft).attr("width",1760-paneLeft).attr("y",stochY(stochasticBand[1])).attr("height",stochY(stochasticBand[0])-stochY(stochasticBand[1])).attr("fill","#e9cffe");
svg.append("line").attr("x1",paneLeft).attr("x2",1760).attr("y1",stochY(50)).attr("y2",stochY(50)).attr("stroke","#dcc2f2").attr("stroke-width",2);
svg.append("g").selectAll("line").data(stochasticBand).join("line").attr("x1",paneLeft).attr("x2",1762).attr("y1",d=>stochY(d)).attr("y2",d=>stochY(d)).attr("stroke","#9d8aa6").attr("stroke-width",2).attr("stroke-dasharray","5 4");
const stochLine=k=>d3.line().x(d=>timeX(d[0])).y(d=>stochY(d[k]));
svg.append("path").datum(stochastic).attr("fill","none").attr("stroke","#ff9c66").attr("stroke-opacity",.75).attr("stroke-width",1.2).attr("d",stochLine(2));
svg.append("path").datum(stochastic).attr("fill","none").attr("stroke","#64b5f6").attr("stroke-opacity",.85).attr("stroke-width",1.2).attr("d",stochLine(1));

// MACD pane
vGrid(stochBottom,macdBottom);
svg.append("line").attr("x1",paneLeft).attr("x2",axisX).attr("y1",macdY(0)).attr("y2",macdY(0)).attr("stroke",gridColor).attr("stroke-width",2);
svg.append("g").selectAll("rect").data(histogram).join("rect")
 .attr("x",(d,i)=>timeX(histogramStart+i*histogramStep)).attr("width",(d,i)=>timeX(histogramStart+(i+1)*histogramStep)-timeX(histogramStart+i*histogramStep))
 .attr("y",d=>macdY(Math.max(d,0))+(d<0?2:0)).attr("height",d=>Math.abs(macdY(d)-macdY(0)))
 .attr("fill",(d,i)=>{const p=i?histogram[i-1]:0;return d>=0?(d>=p?"#26a69a":"#b2dfdb"):(d<p?"#ef5350":"#ffcdd2");});
const macdPath=d3.line().x(d=>timeX(d[0])).y(d=>macdY(d[1]));
svg.append("path").datum(macdSignal).attr("fill","none").attr("stroke","#ff7f2a").attr("stroke-width",1.6).attr("d",macdPath);
svg.append("path").datum(macdLine).attr("fill","none").attr("stroke","#2196f3").attr("stroke-width",1.6).attr("d",macdPath);

// axes
function styleAxis(g,size,dx,dy){g.select(".domain").remove();g.selectAll("line").attr("stroke","#555").attr("stroke-width",2);g.selectAll("text").attr("fill","#555").attr("font-size",size).attr("font-family","Lato").attr("transform",`translate(${dx},${dy})`);}
const ax=svg.append("g").attr("transform",`translate(${axisX},0)`).call(d3.axisRight(priceY).tickValues(priceTicks).tickSize(8).tickPadding(9).tickFormat(d=>priceLabelled.includes(d)?(d/1000).toFixed(3):""));styleAxis(ax,21,0,0);
const ax2=svg.append("g").attr("transform",`translate(${axisX},0)`).call(d3.axisRight(stochY).tickValues(stochasticTicks).tickSize(8).tickPadding(9).tickFormat(d3.format(".2f")));styleAxis(ax2,21,0,2);
const ax3=svg.append("g").attr("transform",`translate(${axisX},0)`).call(d3.axisRight(macdY).tickValues(macdTicks).tickSize(8).tickPadding(9).tickFormat(d3.format(".3f")));styleAxis(ax3,21,0,1);
const ax4=svg.append("g").attr("transform",`translate(0,${macdBottom})`).call(d3.axisBottom(timeX).tickValues(tickDays).tickSize(8).tickPadding(9).tickFormat((d,i)=>tickLabels[i]));styleAxis(ax4,21,-2,3);

// tags
const tag=svg.append("g").selectAll("g").data(tagValues).join("g").attr("transform",d=>`translate(1763.5,${priceY(d)})`);
tag.append("rect").attr("x",0).attr("y",-17).attr("width",88.5).attr("height",34).attr("fill",(d,i)=>tagColors[i]);
tag.append("line").attr("x1",0).attr("x2",8).attr("stroke","rgba(255,255,255,.45)").attr("stroke-width",2);
tag.append("text").attr("x",17).attr("y",2).attr("dominant-baseline","middle").attr("font-size",21).attr("fill",(d,i)=>tagText[i]).text((d,i)=>tagLabels[i]);

// frame
const frameLines=svg.append("g").attr("stroke","#555").attr("stroke-width",2.2).attr("fill","none");
frameLines.append("rect").attr("x",12).attr("y",87).attr("width",outerRight-12).attr("height",timeBottom-87);
[mainBottom,stochBottom,macdBottom].forEach(y=>frameLines.append("line").attr("x1",12).attr("x2",outerRight).attr("y1",y).attr("y2",y));
frameLines.append("line").attr("x1",axisX).attr("x2",axisX).attr("y1",87).attr("y2",timeBottom);

// header
const dark="#131722",red="#ef5350";
const line1=svg.append("text").attr("x",13).attr("y",33).attr("font-size",25.6).attr("fill",dark);
line1.append("tspan").attr("font-weight",700).text("FilFox");
line1.append("tspan").text(" published on TradingView.com, February 26, 2020 07:09:36 +03");
const legendText=["BITSTAMP:XRPUSD, 180","0.240","−0.013 (−4.98%)","O:","0.241","H:","0.242","L:","0.239","C:","0.240"];
const legendX=[13,300,397,588,617,687,715,787,809,880,905];
const legendBold=[1,0,0,1,0,1,0,1,0,1,0];
const legendColor=[dark,dark,dark,dark,red,dark,red,dark,red,dark,red];
svg.append("g").selectAll("text").data(legendText).join("text").attr("x",(d,i)=>legendX[i]).attr("y",67).attr("font-size",24.5)
 .attr("font-weight",(d,i)=>legendBold[i]?700:400).attr("fill",(d,i)=>legendColor[i]).text(d=>d);
svg.append("path").attr("d",d3.line()([[370,48],[389,48],[379.5,68]])+"Z").attr("fill",red);

// logo
const logo=svg.append("g");
[[22,1318,10],[38,1311,12],[54,1319,9.5]].forEach(c=>logo.append("circle").attr("cx",c[0]).attr("cy",c[1]).attr("r",c[2]).attr("fill","#2196f3"));
logo.append("rect").attr("x",12).attr("y",1318).attr("width",52).attr("height",10).attr("rx",3).attr("fill","#2196f3");
logo.append("path").attr("d",d3.line()([[14,1328],[31,1310],[45,1325],[60,1304]])).attr("fill","none").attr("stroke","#fff").attr("stroke-width",3);
[[31,1310],[45,1325]].forEach(c=>logo.append("circle").attr("cx",c[0]).attr("cy",c[1]).attr("r",3.5).attr("fill","#fff"));
svg.append("text").attr("x",68).attr("y",1322).attr("font-size",26).attr("fill",dark).text("TradingView");
</script></body></html>
